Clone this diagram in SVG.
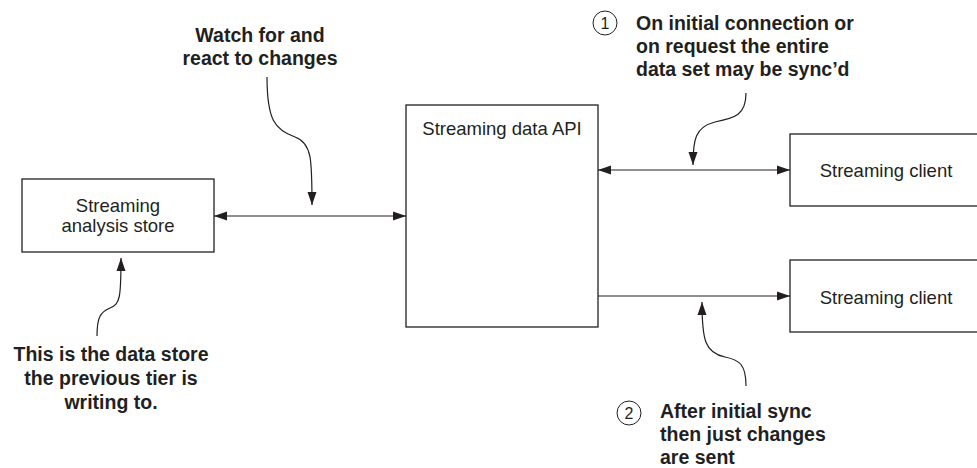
<svg xmlns="http://www.w3.org/2000/svg" width="977" height="468" viewBox="0 0 977 468">
<defs>
<marker id="ah" markerUnits="userSpaceOnUse" markerWidth="14" markerHeight="10" refX="13" refY="4.5" orient="auto-start-reverse" viewBox="0 0 14 9">
<path d="M0,0 L13,4.5 L0,9 z" fill="#231f20"/>
</marker>
<style>
.box{fill:#fff;stroke:#231f20;stroke-width:1.3}
.lbl{font-family:"Liberation Sans",Arial,sans-serif;font-size:18.5px;fill:#231f20}
.note{font-family:"Liberation Sans",Arial,sans-serif;font-size:19.5px;font-weight:bold;fill:#231f20}
.num{font-family:"Liberation Sans",Arial,sans-serif;font-size:16px;fill:#231f20}
.conn{fill:none;stroke:#231f20;stroke-width:1.2}
.circ{fill:none;stroke:#231f20;stroke-width:1}
</style>
</defs>
<rect width="977" height="468" fill="#fff"/>
<g id="connectors">
<line class="conn" x1="214" y1="216" x2="406" y2="216" marker-start="url(#ah)" marker-end="url(#ah)"/>
<line class="conn" x1="598" y1="170" x2="790" y2="170" marker-start="url(#ah)" marker-end="url(#ah)"/>
<line class="conn" x1="598" y1="296" x2="790" y2="296" marker-end="url(#ah)"/>
<path class="conn" d="M267,77 C267,120 275,130 295,137 C312,143 312,160 312,205" marker-end="url(#ah)"/>
<path class="conn" d="M746,93 C746,115 735,118 715,122 C695,127 693,140 693,165" marker-end="url(#ah)"/>
<path class="conn" d="M746,386 C746,365 740,360 725,357 C705,353 702,340 702,302" marker-end="url(#ah)"/>
<path class="conn" d="M97,336 C97,318 100,312 110,308 C120,304 121,298 121,258" marker-end="url(#ah)"/>
</g>
<g id="store">
<rect class="box" x="22" y="179" width="192" height="73"/>
<text class="lbl" x="118" y="212" text-anchor="middle">Streaming</text>
<text class="lbl" x="118" y="232" text-anchor="middle">analysis store</text>
</g>
<g id="api">
<rect class="box" x="406" y="105" width="192" height="222"/>
<text class="lbl" x="502" y="135" text-anchor="middle">Streaming data API</text>
</g>
<g id="client1">
<rect class="box" x="790" y="134" width="200" height="72"/>
<text class="lbl" x="886" y="177" text-anchor="middle">Streaming client</text>
</g>
<g id="client2">
<rect class="box" x="790" y="260" width="200" height="72"/>
<text class="lbl" x="886" y="304" text-anchor="middle">Streaming client</text>
</g>
<g id="note-watch">
<text class="note" x="260" y="42" text-anchor="middle">Watch for and</text>
<text class="note" x="260" y="65" text-anchor="middle">react to changes</text>
</g>
<g id="note-1">
<circle class="circ" cx="605" cy="23" r="12"/>
<text class="num" x="605" y="29" text-anchor="middle">1</text>
<text class="note" x="636" y="30">On initial connection or</text>
<text class="note" x="636" y="53">on request the entire</text>
<text class="note" x="636" y="76">data set may be sync’d</text>
</g>
<g id="note-2">
<circle class="circ" cx="629" cy="413" r="12"/>
<text class="num" x="629" y="419" text-anchor="middle">2</text>
<text class="note" x="660" y="418">After initial sync</text>
<text class="note" x="660" y="441">then just changes</text>
<text class="note" x="660" y="464">are sent</text>
</g>
<g id="note-store">
<text class="note" x="111" y="361" text-anchor="middle">This is the data store</text>
<text class="note" x="111" y="385" text-anchor="middle">the previous tier is</text>
<text class="note" x="111" y="409" text-anchor="middle">writing to.</text>
</g>
</svg>
